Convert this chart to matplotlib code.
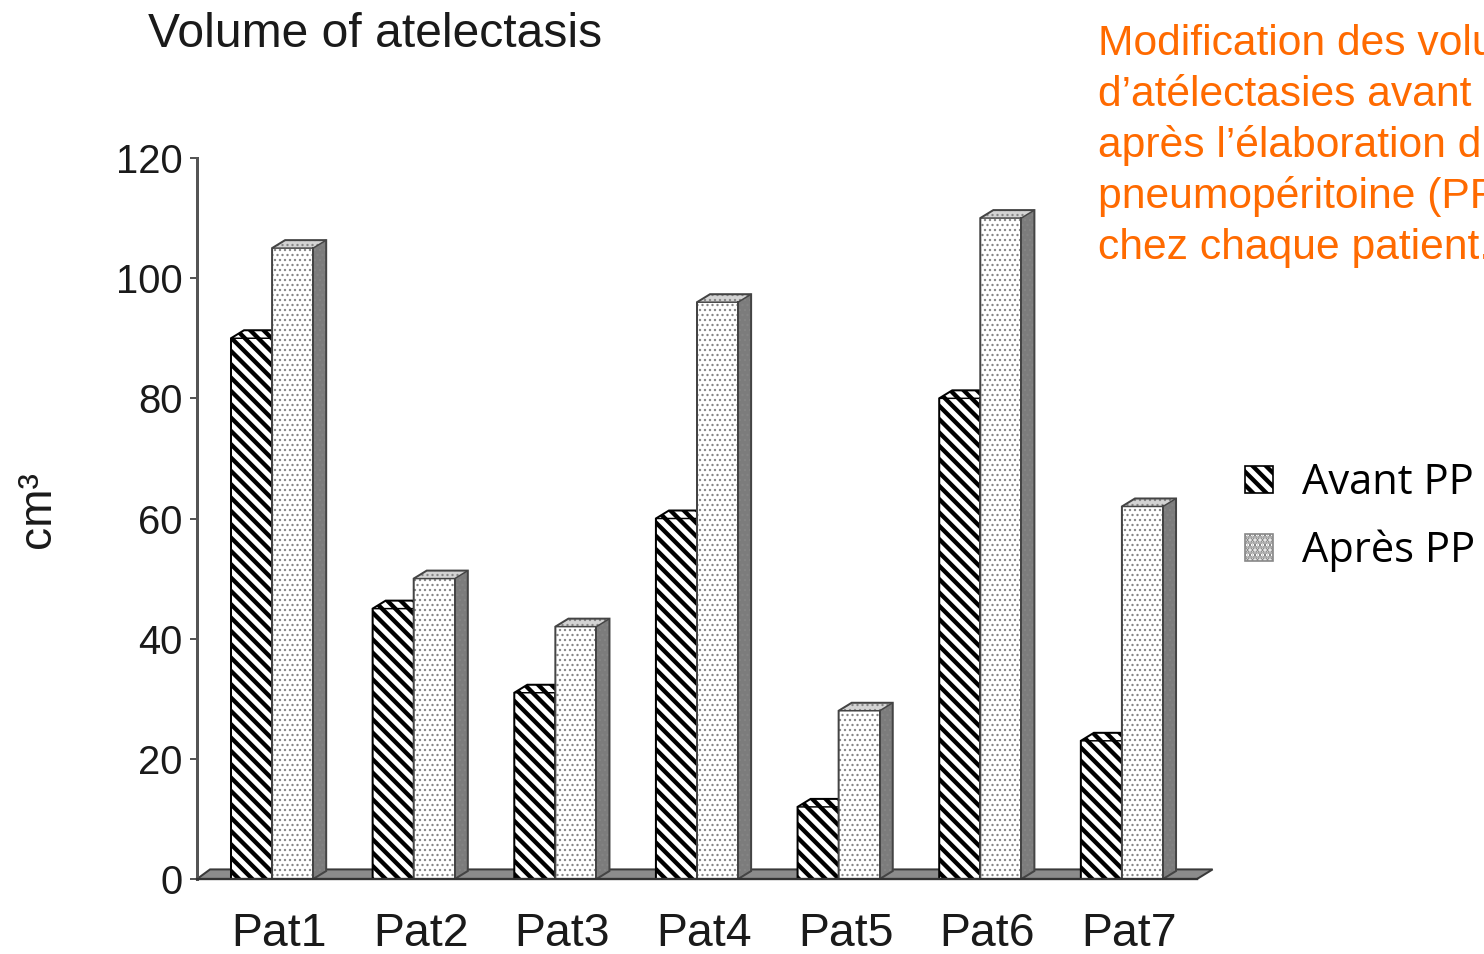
import numpy as np
import matplotlib.pyplot as plt
from matplotlib.patches import Polygon, Rectangle, Patch

# Atelectasis volume per patient (cm3), before and after pneumoperitoneum
patients = ['Pat1', 'Pat2', 'Pat3', 'Pat4', 'Pat5', 'Pat6', 'Pat7']
avant_pp = [90, 45, 31, 60, 12, 80, 23]
apres_pp = [105, 50, 42, 96, 28, 110, 62]
yticks = [0, 20, 40, 60, 80, 100, 120]
legend_labels = ['Avant PP', 'Après PP']
note_lines = ['Modification des volumes',
              'd’atélectasies avant et',
              'après l’élaboration du',
              'pneumopéritoine (PP)',
              'chez chaque patient.']

DPI = 120
W, H = 1484, 954
plt.rcParams['font.family'] = ['Liberation Sans', 'DejaVu Sans']
plt.rcParams['hatch.linewidth'] = 2.6

fig = plt.figure(figsize=(W / DPI, H / DPI), dpi=DPI)
ax = fig.add_axes([197 / W, 75 / H, 1000 / W, 721 / H])
ax.set_xlim(-0.53, 6.53)
ax.set_ylim(0, 120)

bw = 0.29      # bar width
dx, dy = 0.092, 1.33   # depth offset of the 3D look
STRIPES = '\\\\\\'
DOTS = '....'


def set_hlw(p, lw):
    if hasattr(p, 'set_hatch_linewidth'):
        p.set_hatch_linewidth(lw)


def bar3d(x0, h, kind):
    if kind == 'hatch':
        hatch, hcol, side_face, top_face, edge = STRIPES, 'black', '#777777', 'white', 'black'
        hlw = 2.6
    else:
        hatch, hcol, side_face, top_face, edge = DOTS, '#858585', '#7c7c7c', '#d4d4d4', '#444444'
        hlw = 0.8
    side = Polygon([(x0 + bw, 0), (x0 + bw + dx, dy), (x0 + bw + dx, h + dy), (x0 + bw, h)],
                   closed=True, facecolor=side_face, edgecolor=hcol, hatch=hatch, lw=0,
                   clip_on=False, zorder=3)
    top = Polygon([(x0, h), (x0 + bw, h), (x0 + bw + dx, h + dy), (x0 + dx, h + dy)],
                  closed=True, facecolor=top_face, edgecolor=hcol, hatch=hatch, lw=0,
                  clip_on=False, zorder=3)
    front = Rectangle((x0, 0), bw, h, facecolor='white', edgecolor=hcol, hatch=hatch, lw=0,
                      clip_on=False, zorder=3)
    for p in (side, top, front):
        set_hlw(p, hlw)
        ax.add_patch(p)
    # outlines
    ax.add_patch(Polygon([(x0 + bw, 0), (x0 + bw + dx, dy), (x0 + bw + dx, h + dy),
                          (x0 + dx, h + dy), (x0, h), (x0, 0)],
                         closed=True, fill=False, edgecolor=edge, lw=1.2,
                         clip_on=False, zorder=3))
    ax.add_patch(Polygon([(x0, h), (x0 + bw, h), (x0 + bw + dx, h + dy)], closed=False,
                         fill=False, edgecolor=edge, lw=0.9, clip_on=False, zorder=3))
    ax.plot([x0 + bw, x0 + bw], [0, h], color=edge, lw=1.2, clip_on=False, zorder=3)


# floor of the chart
xl, xr = ax.get_xlim()
ax.add_patch(Polygon([(xl, 0), (xr, 0), (xr + dx * 1.2, dy * 1.2), (xl + dx, dy * 1.2)],
                     closed=True, facecolor='#8c8c8c', edgecolor='#3a3a3a', lw=1.2,
                     clip_on=False, zorder=1))

idx = np.arange(len(patients))
for i in idx:
    bar3d(i - bw, avant_pp[i], 'hatch')
    bar3d(i, apres_pp[i], 'dots')

# axes styling
for s in ('top', 'right'):
    ax.spines[s].set_visible(False)
ax.spines['left'].set_color('#555555')
ax.spines['left'].set_linewidth(1.8)
ax.spines['bottom'].set_color('#333333')
ax.spines['bottom'].set_linewidth(1.4)
ax.spines['bottom'].set_zorder(4)

ax.set_yticks(yticks)
ax.tick_params(axis='y', direction='out', length=4.2, width=1.2, color='#555555',
               labelsize=24, pad=4.5, labelcolor='#1a1a1a')
ax.set_xticks(idx + 0.05, patients)
ax.tick_params(axis='x', length=0, labelsize=27.8, pad=20, labelcolor='#1a1a1a')

fig.text(148 / W, 1 - 47 / H, 'Volume of atelectasis', fontsize=28.8,
         color='#1a1a1a', ha='left', va='baseline')
fig.text(38 / W, 1 - 510 / H, 'cm³', fontsize=27.6, rotation=90,
         color='#1a1a1a', ha='center', va='center')

# orange note at the top right
for k, line in enumerate(note_lines):
    fig.text(1098 / W, 1 - (55 + 51 * k) / H, line, fontsize=25.6,
             color='#FF6A00', ha='left', va='baseline')

# legend
h1 = Patch(facecolor='white', edgecolor='black', hatch=STRIPES, lw=1.0)
h2 = Patch(facecolor='white', edgecolor='#888888', hatch=DOTS, lw=1.0)
fig.legend([h1, h2], legend_labels, loc='upper left',
           bbox_to_anchor=(1245 / W, 1 - 462 / H), frameon=False,
           prop={'family': 'Open Sans', 'size': 25},
           handlelength=0.66, handleheight=0.62, handletextpad=0.72,
           labelspacing=0.62, borderpad=0, borderaxespad=0)

fig.savefig('out.png', dpi=DPI)
